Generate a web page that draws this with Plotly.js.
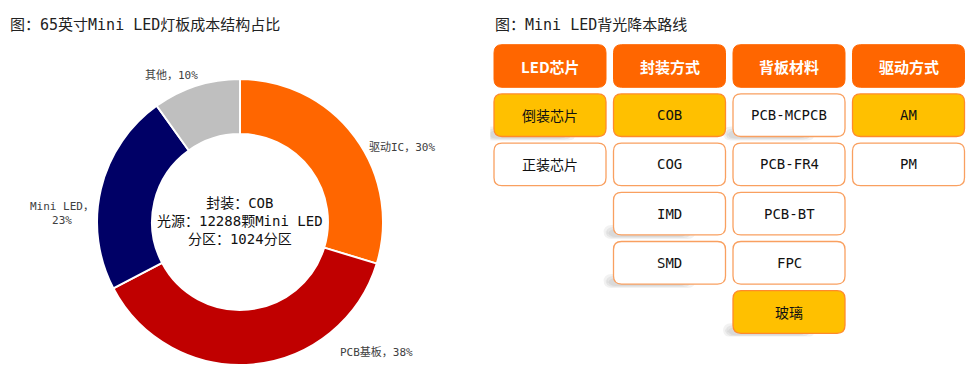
<!DOCTYPE html>
<html>
<head>
<meta charset="utf-8">
<script src="https://cdn.plot.ly/plotly-3.0.1.min.js"></script>
<style>html,body{margin:0;padding:0;background:#fff;}#chart{width:969px;height:367px;}</style>
</head>
<body>
<div id="chart"></div>
<script>
// ---- Donut data ----
const sliceLabels = ["驱动IC", "PCB基板", "Mini LED", "其他"];
const sliceValues = [30, 38, 23, 10];
const sliceColors = ["#FF6600", "#C00000", "#000066", "#BFBFBF"];
const centerLines = ["封装：COB", "光源：12288颗Mini LED", "分区：1024分区"];

// ---- Route diagram data ----
const headers = ["LED芯片", "封装方式", "背板材料", "驱动方式"];
const colItems = [
  ["倒装芯片", "正装芯片"],
  ["COB", "COG", "IMD", "SMD"],
  ["PCB-MCPCB", "PCB-FR4", "PCB-BT", "FPC", "玻璃"],
  ["AM", "PM"]
];
const colHighlight = [
  [1, 0],
  [1, 0, 0, 0],
  [0, 0, 0, 0, 1],
  [1, 0]
];
const colShadow = [
  [1, 0],
  [0, 0, 1, 1],
  [1, 0, 0, 0, 1],
  [0, 0]
];

const leftTitle = "图：65英寸Mini LED灯板成本结构占比";
const rightTitle = "图：Mini LED背光降本路线";

// ---- layout helpers ----
const W = 969, H = 367;
const FONT = "DejaVu Sans Mono, Noto Sans CJK SC, monospace";
const CJK = "Noto Sans CJK SC, DejaVu Sans Mono, sans-serif";

// label placement (pixel) for each slice
const labelPos = [[402, 147], [376, 352], [62, 214], [171, 76]];
const labelText = sliceLabels.map((l, i) => {
  const t = l + "，" + sliceValues[i] + "%";
  return i === 2 ? l + "，<br>" + sliceValues[i] + "%" : t;
});

const cx = 240, cy = 222, R = 143;
const pie = {
  type: "pie",
  labels: sliceLabels,
  values: sliceValues,
  marker: {colors: sliceColors, line: {color: "#ffffff", width: 2}},
  hole: 0.615,
  sort: false,
  direction: "clockwise",
  rotation: 0,
  textinfo: "none",
  hoverinfo: "none",
  showlegend: false,
  domain: {x: [(cx - R) / W, (cx + R) / W], y: [1 - (cy + R) / H, 1 - (cy - R) / H]}
};

// axis pixel mapping for diagram
const colPitch = 119.5, rowPitch = 49.2;
const xLeftPx = 550 - colPitch / 2, xRightPx = xLeftPx + 4 * colPitch;
const yTopPx = 66 - rowPitch / 2, yBotPx = yTopPx + 6 * rowPitch;
const hw = 56 / colPitch, hh = 21.3 / rowPitch;
const rx = 8 / colPitch, ry = 8 / rowPitch;

function rr(x0, x1, y0, y1) {
  return `M ${x0 + rx},${y0} L ${x1 - rx},${y0} Q ${x1},${y0} ${x1},${y0 + ry} L ${x1},${y1 - ry} Q ${x1},${y1} ${x1 - rx},${y1} L ${x0 + rx},${y1} Q ${x0},${y1} ${x0},${y1 - ry} L ${x0},${y0 + ry} Q ${x0},${y0} ${x0 + rx},${y0} Z`;
}

const shapes = [];
const annotations = [];

headers.forEach((h, i) => {
  shapes.push({type: "path", xref: "x", yref: "y", path: rr(i - hw, i + hw, 0 - hh, 0 + hh),
    fillcolor: "#FF6600", line: {color: "#FF6600", width: 1}});
  annotations.push({xref: "x", yref: "y", x: i, y: 0, text: "<b>" + h + "</b>", showarrow: false,
    font: {family: CJK, size: 15, color: "#ffffff"}});
});

colItems.forEach((items, i) => {
  items.forEach((t, k) => {
    const j = k + 1;
    const hl = colHighlight[i][k];
    if (colShadow[i][k]) {
      for (let s = 0; s < 3; s++) {
        shapes.push({type: "path", xref: "x", yref: "y", layer: "below",
          path: rr(i - hw - (10 - 2 * s) / colPitch, i + hw - (30 + 4 * s) / colPitch,
                   j + hh - (10 - 2 * s) / rowPitch, j + hh + (4 - s) / rowPitch),
          fillcolor: "rgba(0,0,0,0.05)", line: {width: 0}});
      }
    }
    shapes.push({type: "path", xref: "x", yref: "y", path: rr(i - hw, i + hw, j - hh, j + hh),
      fillcolor: hl ? "#FFC000" : "#ffffff", line: {color: hl ? "#FF8A2B" : "#F9A060", width: 1.3}});
    annotations.push({xref: "x", yref: "y", x: i, y: j, text: t, showarrow: false,
      font: {family: /[\u4e00-\u9fff]/.test(t) ? CJK : FONT, size: 14, color: "#111111"}});
  });
});

// donut labels
labelText.forEach((t, i) => {
  annotations.push({xref: "paper", yref: "paper", x: labelPos[i][0] / W, y: 1 - labelPos[i][1] / H,
    xanchor: "center", yanchor: "middle", text: t, showarrow: false, align: "center",
    font: {family: FONT, size: 11, color: "#404040"}});
});

// center text
annotations.push({xref: "paper", yref: "paper", x: cx / W, y: 1 - 221 / H, xanchor: "center", yanchor: "middle",
  text: centerLines.join("<br>"), showarrow: false, align: "center",
  font: {family: FONT, size: 14, color: "#111111"}});

// titles
annotations.push({xref: "paper", yref: "paper", x: 8 / W, y: 1 - 25 / H, xanchor: "left", yanchor: "middle",
  text: leftTitle, showarrow: false, font: {family: FONT, size: 15, color: "#222222"}});
annotations.push({xref: "paper", yref: "paper", x: 493 / W, y: 1 - 25 / H, xanchor: "left", yanchor: "middle",
  text: rightTitle, showarrow: false, font: {family: FONT, size: 15, color: "#222222"}});

const layout = {
  width: W, height: H,
  margin: {l: 0, r: 0, t: 0, b: 0},
  paper_bgcolor: "#ffffff", plot_bgcolor: "rgba(0,0,0,0)",
  showlegend: false,
  xaxis: {domain: [xLeftPx / W, xRightPx / W], range: [-0.5, 3.5], visible: false, fixedrange: true},
  yaxis: {domain: [1 - yBotPx / H, 1 - yTopPx / H], range: [5.5, -0.5], visible: false, fixedrange: true},
  shapes: shapes,
  annotations: annotations
};

Plotly.newPlot("chart", [pie], layout, {displayModeBar: false, staticPlot: true});
</script>
</body>
</html>
